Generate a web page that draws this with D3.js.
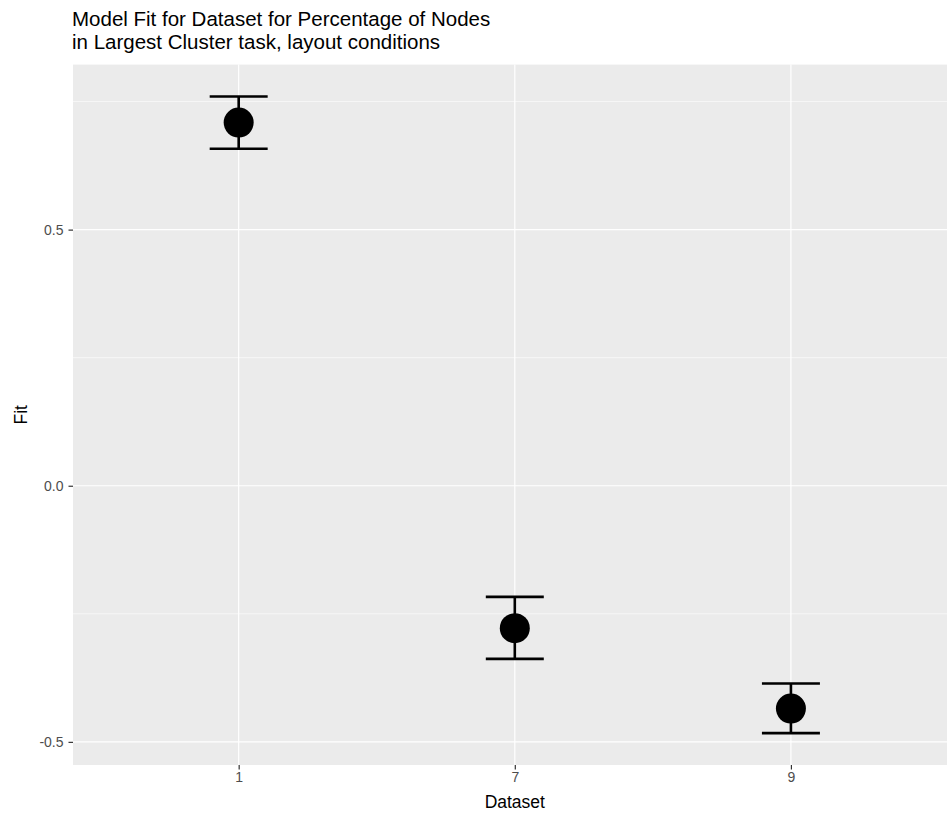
<!DOCTYPE html>
<html>
<head>
<meta charset="utf-8">
<script src="https://cdn.jsdelivr.net/npm/d3@7"></script>
<style>
  html, body { margin: 0; padding: 0; background: #fff; }
  svg { display: block; font-family: "Liberation Sans", Arial, sans-serif; }
</style>
</head>
<body>
<svg id="chart" width="947" height="814"></svg>
<script>
const categories = ["1", "7", "9"];
const fitValues = [0.709, -0.278, -0.435];
const upperValues = [0.760, -0.217, -0.386];
const lowerValues = [0.658, -0.338, -0.483];
const yTicks = [-0.5, 0.0, 0.5];
const yMinor = [-0.25, 0.25, 0.75];
const titleLines = ["Model Fit for Dataset for Percentage of Nodes", "in Largest Cluster task, layout conditions"];

const svg = d3.select("#chart");
const panel = { left: 73, top: 64.6, right: 956.6, bottom: 765 };

// discrete x scale with ggplot expansion (0.6 units)
const x = d3.scaleLinear()
  .domain([0.4, categories.length + 0.6])
  .range([panel.left, panel.right]);
const xPos = i => x(i + 1);

const dMax = d3.max(upperValues), dMin = d3.min(lowerValues);
const pad = (dMax - dMin) * 0.05;
const y = d3.scaleLinear()
  .domain([dMin - pad, dMax + pad])
  .range([panel.bottom, panel.top]);

// panel background
svg.append("rect")
  .attr("x", panel.left).attr("y", panel.top)
  .attr("width", panel.right - panel.left).attr("height", panel.bottom - panel.top)
  .attr("fill", "#EBEBEB");

// minor grid
svg.append("g").selectAll("line").data(yMinor).join("line")
  .attr("x1", panel.left).attr("x2", panel.right)
  .attr("y1", d => y(d)).attr("y2", d => y(d))
  .attr("stroke", "#fff").attr("stroke-width", 0.6);

// major grid
svg.append("g").selectAll("line").data(yTicks).join("line")
  .attr("x1", panel.left).attr("x2", panel.right)
  .attr("y1", d => y(d)).attr("y2", d => y(d))
  .attr("stroke", "#fff").attr("stroke-width", 1.2);
svg.append("g").selectAll("line").data(categories).join("line")
  .attr("x1", (d, i) => xPos(i)).attr("x2", (d, i) => xPos(i))
  .attr("y1", panel.top).attr("y2", panel.bottom)
  .attr("stroke", "#fff").attr("stroke-width", 1.2);

// y axis
const yAxis = d3.axisLeft(y).tickValues(yTicks).tickFormat(d3.format(".1f")).tickSize(4.5).tickPadding(5);
const gy = svg.append("g").attr("transform", `translate(${panel.left},0)`).call(yAxis);
gy.select(".domain").remove();
gy.selectAll(".tick line").attr("stroke", "#333").attr("stroke-width", 1.2);
gy.selectAll(".tick text").attr("fill", "#4D4D4D").attr("font-size", 14)
  .attr("font-family", "Liberation Sans, Arial, sans-serif")
  .text(d => d3.format(".1f")(d).replace("−", "-"));

// x axis
const xAxis = d3.axisBottom(x).tickValues(categories.map((c, i) => i + 1))
  .tickFormat((d) => categories[d - 1]).tickSize(4.5).tickPadding(3);
const gx = svg.append("g").attr("transform", `translate(0,${panel.bottom})`).call(xAxis);
gx.select(".domain").remove();
gx.selectAll(".tick line").attr("stroke", "#333").attr("stroke-width", 1.2);
gx.selectAll(".tick text").attr("fill", "#4D4D4D").attr("font-size", 14)
  .attr("font-family", "Liberation Sans, Arial, sans-serif");

// error bars
const halfW = 0.105;
const eb = svg.append("g").attr("stroke", "#000").attr("stroke-width", 2.6).attr("fill", "none");
categories.forEach((c, i) => {
  const cx = xPos(i);
  const w = x(i + 1 + halfW) - cx;
  eb.append("line").attr("x1", cx).attr("x2", cx).attr("y1", y(upperValues[i])).attr("y2", y(lowerValues[i]));
  eb.append("line").attr("x1", cx - w).attr("x2", cx + w).attr("y1", y(upperValues[i])).attr("y2", y(upperValues[i]));
  eb.append("line").attr("x1", cx - w).attr("x2", cx + w).attr("y1", y(lowerValues[i])).attr("y2", y(lowerValues[i]));
});

// points
svg.append("g").selectAll("circle").data(fitValues).join("circle")
  .attr("cx", (d, i) => xPos(i)).attr("cy", d => y(d))
  .attr("r", 15).attr("fill", "#000");

// axis titles
svg.append("text")
  .attr("x", (panel.left + panel.right) / 2).attr("y", 808)
  .attr("text-anchor", "middle").attr("font-size", 17.5).attr("fill", "#000")
  .text("Dataset");
svg.append("text")
  .attr("transform", `translate(27,${(panel.top + panel.bottom) / 2}) rotate(-90)`)
  .attr("text-anchor", "middle").attr("font-size", 17.5).attr("fill", "#000")
  .text("Fit");

// title
const t = svg.append("text").attr("font-size", 20.5).attr("fill", "#000");
titleLines.forEach((line, i) => {
  t.append("tspan").attr("x", panel.left - 1).attr("y", 26 + i * 23).text(line);
});
</script>
</body>
</html>
